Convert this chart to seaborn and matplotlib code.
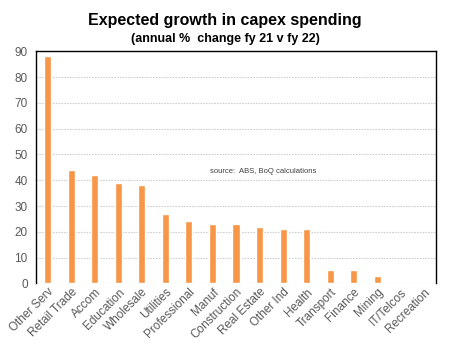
import matplotlib
matplotlib.use("Agg")
import matplotlib.pyplot as plt
import seaborn as sns
import pandas as pd

sns.set_style("white")
plt.rcParams['font.family'] = ['Liberation Sans', 'DejaVu Sans']

categories = ["Other Serv", "Retail Trade", "Accom", "Education", "Wholesale",
              "Utilities", "Professional", "Manuf", "Construction", "Real Estate",
              "Other Ind", "Health", "Transport", "Finance", "Mining",
              "IT/Telcos", "Recreation"]
growth = [88, 44, 42, 39, 38, 27, 24, 23, 23, 22, 21, 21, 5, 5, 3, 0, 0]
yticks = [0, 10, 20, 30, 40, 50, 60, 70, 80, 90]

df = pd.DataFrame({"cat": categories, "val": growth})

fig = plt.figure(figsize=(4.5, 3.49), dpi=100)
ax = fig.add_axes([0.08, 0.188, 0.889, 0.665])

for y in yticks:
    ax.axhline(y, color="#d0d0d0", lw=0.8, ls=(0, (1.5, 1)), zorder=0)

sns.barplot(data=df, x="cat", y="val", color="#F79646", width=0.3,
            saturation=1, ax=ax, zorder=2)

ax.set_ylim(0, 90)
ax.set_xlim(-0.5, len(categories) - 0.5)
ax.set_yticks(yticks)
ax.set_xlabel("")
ax.set_ylabel("")
ax.tick_params(axis="y", labelsize=8.5, colors="#595959", length=0, pad=6)
ax.tick_params(axis="x", labelsize=8.5, colors="#595959", length=0, pad=2)
plt.setp(ax.get_xticklabels(), rotation=45, ha="right", rotation_mode="anchor")

for s in ["left", "top", "right"]:
    ax.spines[s].set_color("black")
    ax.spines[s].set_linewidth(1.0)
ax.spines["bottom"].set_visible(False)

ax.text(9.15, 43.3, "source:  ABS, BoQ calculations", fontsize=5.5,
        color="#404040", ha="center", va="center")

fig.text(0.5, 0.94, "Expected growth in capex spending", ha="center",
         va="center", fontsize=11.5, fontweight="bold", color="black")
fig.text(0.5, 0.888, "(annual %  change fy 21 v fy 22)", ha="center",
         va="center", fontsize=9, fontweight="bold", color="black")

fig.savefig("out.png", dpi=100)
